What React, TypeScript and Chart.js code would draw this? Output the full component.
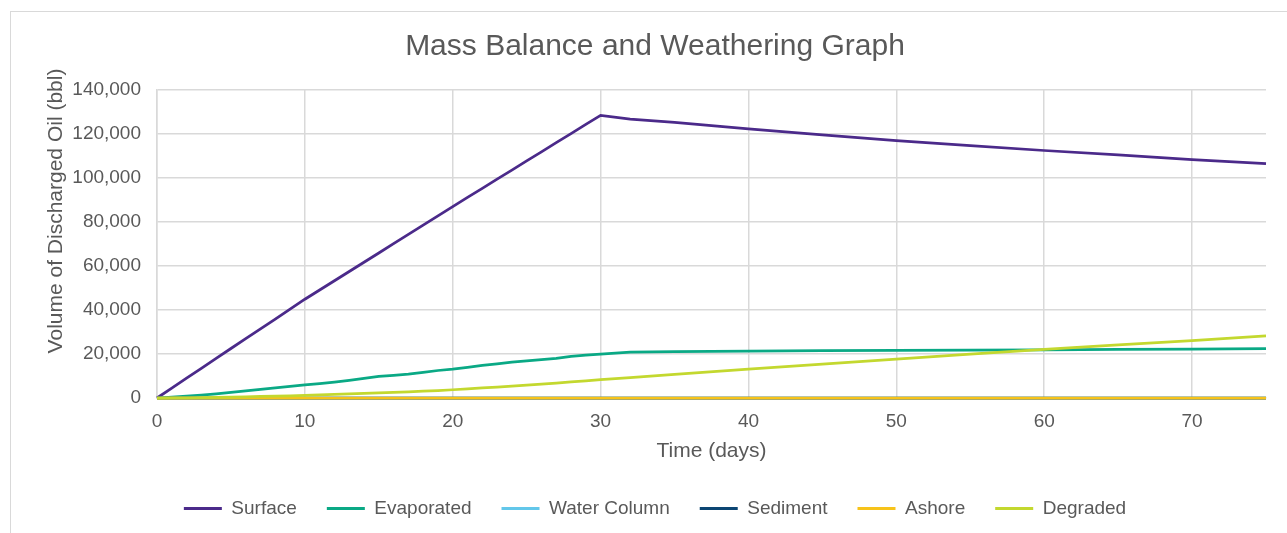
import React, { useEffect, useRef } from 'react';
import { Chart, registerables } from 'chart.js';

Chart.register(...registerables);

const CHART_TITLE = 'Mass Balance and Weathering Graph';
const X_TITLE = 'Time (days)';
const Y_TITLE = 'Volume of Discharged Oil (bbl)';

// days for the main series
const days = [
  0, 1, 2, 3, 4, 5, 6, 7, 8, 9, 10, 11, 12, 13, 14, 15, 16, 17, 18, 19, 20,
  21, 22, 23, 24, 25, 26, 27, 28, 29, 30, 32, 35, 40, 45, 50, 55, 60, 65, 70, 75,
];

const surface = [
  0, 4500, 9000, 13500, 18000, 22500, 27000, 31400, 35900, 40400, 44900,
  49100, 53300, 57500, 61700, 65900, 70200, 74400, 78600, 82800, 87000,
  91200, 95300, 99500, 103600, 107800, 111900, 116100, 120200, 124400, 128500,
  126800, 125300, 122300, 119600, 117000, 114700, 112500, 110500, 108400, 106500,
];

const evaporated = [
  0, 350, 800, 1300, 1900, 2550, 3250, 3950, 4600, 5300, 6000,
  6550, 7200, 8000, 8900, 9800, 10300, 10800, 11600, 12500, 13100,
  13900, 14800, 15500, 16300, 16900, 17400, 18000, 18900, 19500, 19900,
  20800, 21100, 21300, 21500, 21600, 21800, 21900, 22100, 22200, 22400,
];

const degraded = [
  0, 20, 60, 130, 250, 400, 550, 700, 850, 1000, 1200,
  1400, 1600, 1850, 2050, 2300, 2550, 2800, 3100, 3400, 3750,
  4150, 4550, 4950, 5400, 5850, 6300, 6800, 7300, 7800, 8300,
  9250, 10700, 13100, 15400, 17650, 19900, 22150, 24150, 26100, 28200,
];

// series that stay at zero for the whole run
const zeroDays = [0, 75];
const waterColumn = [0, 0];
const sediment = [0, 0];
const ashore = [0, 0];

const seriesNames = ['Surface', 'Evaporated', 'Water Column', 'Sediment', 'Ashore', 'Degraded'];
const seriesColors = ['#4b2a8a', '#0aa985', '#63c7ea', '#0c4673', '#f7c31a', '#c3d82f'];

const X_MIN = 0;
const X_MAX = 75;
const X_STEP = 10;
const Y_MIN = 0;
const Y_MAX = 140000;
const Y_STEP = 20000;

const FONT = '"Liberation Sans", Arial, Helvetica, sans-serif';
const TEXT_COLOR = '#595959';
const GRID_COLOR = '#d9d9d9';

function toPoints(xs: number[], ys: number[]) {
  return xs.map((x, i) => ({ x, y: ys[i] }));
}

const yTitlePlugin = {
  id: 'yTitlePlugin',
  afterDraw(chart: any) {
    const { ctx, chartArea } = chart;
    ctx.save();
    ctx.translate(45, (chartArea.top + chartArea.bottom) / 2 - 33);
    ctx.rotate(-Math.PI / 2);
    ctx.font = `21px ${FONT}`;
    ctx.fillStyle = TEXT_COLOR;
    ctx.textAlign = 'center';
    ctx.textBaseline = 'middle';
    ctx.fillText(Y_TITLE, 0, 0);
    ctx.restore();
  },
};

export default function App() {
  const canvasRef = useRef<HTMLCanvasElement | null>(null);

  useEffect(() => {
    if (!canvasRef.current) return;
    const seriesData = [
      toPoints(days, surface),
      toPoints(days, evaporated),
      toPoints(zeroDays, waterColumn),
      toPoints(zeroDays, sediment),
      toPoints(zeroDays, ashore),
      toPoints(days, degraded),
    ];
    const datasets = seriesNames.map((name, i) => ({
      label: name,
      data: seriesData[i],
      borderColor: seriesColors[i],
      backgroundColor: seriesColors[i],
      borderWidth: 2.75,
      pointRadius: 0,
      pointHoverRadius: 0,
      tension: 0,
      fill: false,
      clip: false,
      order: seriesNames.length - i,
    }));

    const chart = new Chart(canvasRef.current, {
      type: 'line',
      data: { datasets },
      plugins: [yTitlePlugin],
      options: {
        animation: false,
        responsive: false,
        maintainAspectRatio: false,
        layout: { padding: { top: 0, left: 0, right: 0, bottom: 22 } },
        plugins: {
          title: {
            display: true,
            text: CHART_TITLE,
            color: TEXT_COLOR,
            font: { family: FONT, size: 30, weight: 'normal' },
            padding: { top: 17, bottom: 25 },
          },
          legend: {
            display: true,
            position: 'bottom',
            labels: {
              color: TEXT_COLOR,
              font: { family: FONT, size: 19 },
              boxWidth: 38,
              boxHeight: 3,
              padding: 30,
              sort: (a: any, b: any) => a.datasetIndex - b.datasetIndex,
              generateLabels: (c: any) =>
                c.data.datasets.map((ds: any, i: number) => ({
                  text: ds.label,
                  fillStyle: ds.borderColor,
                  strokeStyle: ds.borderColor,
                  lineWidth: 0,
                  hidden: false,
                  datasetIndex: i,
                  fontColor: TEXT_COLOR,
                })),
            },
          },
          tooltip: { enabled: false },
        },
        scales: {
          x: {
            type: 'linear',
            min: X_MIN,
            max: X_MAX,
            title: {
              display: true,
              text: X_TITLE,
              color: TEXT_COLOR,
              font: { family: FONT, size: 21 },
              padding: { top: 0, bottom: 5 },
            },
            ticks: {
              stepSize: X_STEP,
              includeBounds: false,
              color: TEXT_COLOR,
              font: { family: FONT, size: 19 },
              padding: 12,
              maxRotation: 0,
            },
            grid: { color: GRID_COLOR, lineWidth: 1.5, drawTicks: false },
            border: { display: true, color: GRID_COLOR, width: 1.5 },
            afterFit: (s: any) => {
              s.height = 71;
            },
          },
          y: {
            type: 'linear',
            position: 'left',
            min: Y_MIN,
            max: Y_MAX,
            ticks: {
              stepSize: Y_STEP,
              color: TEXT_COLOR,
              font: { family: FONT, size: 19 },
              padding: 16,
              callback: (v: any) => Number(v).toLocaleString('en-US'),
            },
            grid: { color: GRID_COLOR, lineWidth: 1.5, drawTicks: false },
            border: { display: true, color: GRID_COLOR, width: 1.5 },
            afterFit: (s: any) => {
              s.width = 146;
            },
          },
          spacer: {
            type: 'linear',
            position: 'right',
            display: true,
            grid: { display: false, drawTicks: false },
            border: { display: false },
            ticks: { display: false },
            afterFit: (s: any) => {
              s.width = 33;
            },
          },
        },
      } as any,
    });
    return () => chart.destroy();
  }, []);

  return (
    <div
      style={{
        position: 'fixed',
        left: 0,
        top: 0,
        width: 1287,
        height: 533,
        overflow: 'hidden',
        background: '#ffffff',
      }}
    >
      <div
        style={{
          position: 'absolute',
          left: 10,
          top: 11,
          width: 1290,
          height: 540,
          border: '1px solid #d9d9d9',
          boxSizing: 'border-box',
        }}
      >
        <canvas
          ref={canvasRef}
          width={1288}
          height={538}
          style={{ position: 'absolute', left: 0, top: 0, width: 1288, height: 538 }}
        />
      </div>
    </div>
  );
}
